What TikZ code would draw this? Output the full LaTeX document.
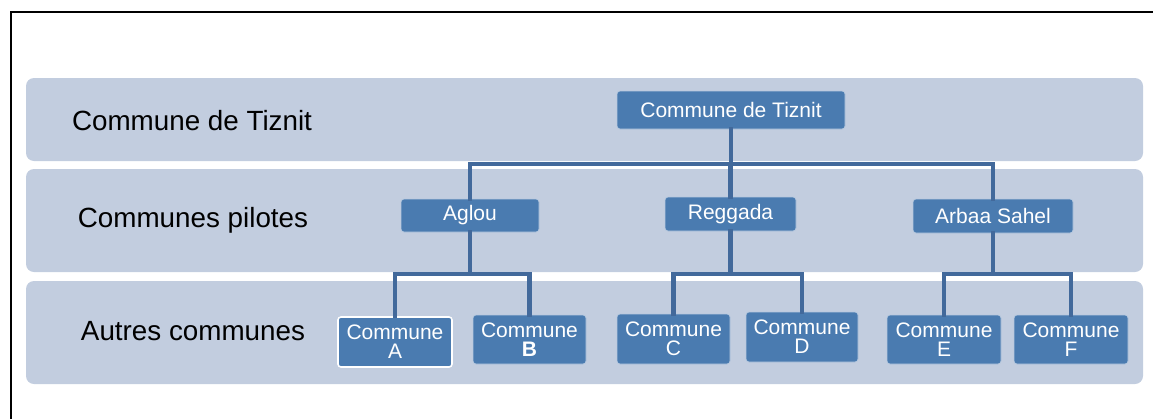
\documentclass[tikz,border=0pt]{standalone}
\usepackage{fontspec}
\setmainfont{Liberation Sans}
\definecolor{band}{HTML}{C2CDDF}
\definecolor{nodeblue}{HTML}{4A7BB0}
\definecolor{conncol}{HTML}{42699B}
\begin{document}
\begin{tikzpicture}[x=1pt,y=-1pt,
  bandbox/.style={fill=band,draw=none,rounded corners=8pt},
  lvl/.style={font=\fontsize{27.8}{30}\selectfont,text=black,anchor=center},
  org/.style={rectangle,rounded corners=3pt,fill=nodeblue,draw=white!60!nodeblue,line width=0.7pt,
    text=white,inner sep=0pt,align=center,font=\fontsize{21}{19}\selectfont},
  conn/.style={draw=conncol,line width=4.5pt,line cap=rect}]
\useasboundingbox (0,0) rectangle (1153,418);
\clip (0,0) rectangle (1153,418);
% frame
\draw[line width=2pt,black] (1160,12) -- (11,12) -- (11,430);
% bands
\path[bandbox] (26,78) rectangle (1143,161);
\path[bandbox] (26,169) rectangle (1143,272);
\path[bandbox] (26,281) rectangle (1143,384);
% level labels
\node[lvl] (l1) at (192,121) {Commune de Tiznit};
\node[lvl] (l2) at (193,220) {Communes pilotes};
\node[lvl] (l3) at (193,331) {Autres communes};
% coordinates for bars
\coordinate (bar1) at (0,164);
\coordinate (bar2) at (0,274);
% nodes
\node[org,minimum width=228pt,minimum height=38pt] (tiz) at (731,110) {Commune de Tiznit};
\node[org,minimum width=138pt,minimum height=33pt] (aglou) at (470,215.5) {Aglou};
\node[org,minimum width=131pt,minimum height=34pt] (reg) at (730.5,214) {Reggada};
\node[org,minimum width=160pt,minimum height=34pt] (arb) at (993,216) {Arbaa Sahel};
\node[org,minimum width=114pt,minimum height=50pt,draw=white,line width=1.6pt] (ca) at (395,342) {Commune\\A};
\node[org,minimum width=113pt,minimum height=49pt] (cb) at (529.5,339.5) {Commune\\\textbf{B}};
\node[org,minimum width=113pt,minimum height=50pt] (cc) at (673.5,339) {Commune\\C};
\node[org,minimum width=112pt,minimum height=50pt] (cd) at (802,337) {Commune\\D};
\node[org,minimum width=114pt,minimum height=49pt] (ce) at (944,339.5) {Commune\\E};
\node[org,minimum width=114pt,minimum height=49pt] (cf) at (1071,339.5) {Commune\\F};
% connectors
\draw[conn] (tiz.south) -- (tiz.south |- bar1);
\draw[conn] (aglou.north) -- (aglou.north |- bar1) -| (arb.north);
\draw[conn] (reg.north) -- (reg.north |- bar1);
\draw[conn] (aglou.south) -- (aglou.south |- bar2);
\draw[conn] (ca.north) -- (ca.north |- bar2) -| (cb.north);
\draw[conn] (reg.south) -- (reg.south |- bar2);
\draw[conn] (cc.north) -- (cc.north |- bar2) -| (cd.north);
\draw[conn] (arb.south) -- (arb.south |- bar2);
\draw[conn] (ce.north) -- (ce.north |- bar2) -| (cf.north);
\end{tikzpicture}
\end{document}
